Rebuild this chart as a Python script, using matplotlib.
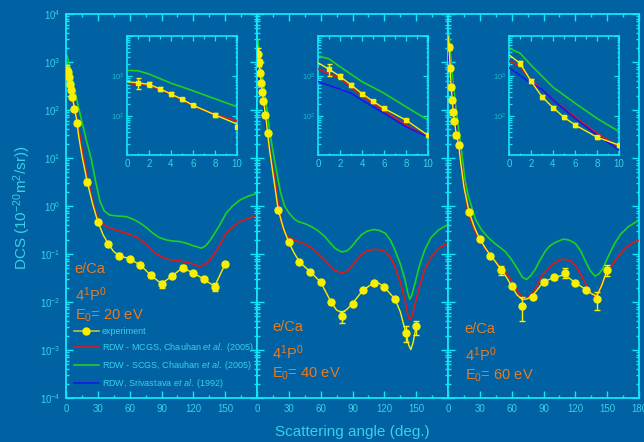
import matplotlib
matplotlib.use('Agg')
import matplotlib.pyplot as plt
from matplotlib.ticker import LogLocator, MultipleLocator, NullFormatter, FixedLocator, FixedFormatter
from matplotlib.lines import Line2D

plt.rcParams['font.family'] = ['Liberation Sans', 'DejaVu Sans']
plt.rcParams['mathtext.fontset'] = 'custom'
plt.rcParams['mathtext.rm'] = 'Liberation Sans'
plt.rcParams['mathtext.it'] = 'Liberation Sans:italic'
plt.rcParams['mathtext.bf'] = 'Liberation Sans:bold'

# ---------------- data ----------------
energies = ['20', '40', '60']
exp_ang = [1, 2, 3, 4, 5, 6, 8, 10, 20, 30, 40, 50, 60, 70, 80, 90, 100, 110, 120, 130, 140, 150]

exp20 = [680, 620, 480, 355, 262, 185, 106, 54, 3.2, 0.47, 0.16, 0.093, 0.079, 0.059, 0.036, 0.024,
         0.035, 0.052, 0.040, 0.030, 0.021, 0.062]
err20 = [200, 75, 48, 35, 26, 18, 10, 5, 0.4, 0.05, 0.016, 0.012, 0.008, 0.006, 0.004, 0.004,
         0.004, 0.006, 0.004, 0.003, 0.004, 0.006]
exp40 = [1480, 980, 600, 360, 234, 155, 79, 33, 0.83, 0.174, 0.069, 0.043, 0.026, 0.0098, 0.0051, 0.0093,
         0.0178, 0.025, 0.0204, 0.0115, 0.0023, 0.0031]
err40 = [500, 150, 60, 30, 20, 12, 6, 3, 0.06, 0.012, 0.005, 0.003, 0.002, 0.0008, 0.0015, 0.0008,
         0.0013, 0.002, 0.0015, 0.001, 0.0008, 0.001]
exp60 = [2090, 750, 302, 162, 93, 60, 29.5, 18.8, 0.74, 0.204, 0.093, 0.047, 0.0214, 0.0083, 0.0129, 0.0263,
         0.0324, 0.041, 0.0251, 0.0182, 0.0115, 0.047]
err60 = [300, 80, 30, 16, 9, 6, 3, 2, 0.07, 0.02, 0.009, 0.01, 0.002, 0.0042, 0.0013, 0.0026,
         0.003, 0.009, 0.0025, 0.0018, 0.0048, 0.012]

fit20_ang = [0, 1, 2, 3, 4, 5, 6, 8, 10, 12, 15, 20, 25, 30, 35, 40, 45, 50, 60, 70, 80, 90, 100, 110, 120, 130, 140, 150]
fit20 = [724, 676, 617, 479, 355, 263, 186, 107, 63, 28, 11.2, 3.2, 1.12, 0.47, 0.25, 0.16, 0.112, 0.093,
         0.079, 0.059, 0.036, 0.024, 0.035, 0.052, 0.040, 0.030, 0.021, 0.062]
fit40_ang = [0, 1, 2, 3, 4, 5, 6, 8, 10, 12, 15, 20, 25, 30, 35, 40, 45, 50, 60, 70, 75, 80, 85, 90, 100, 110,
             115, 120, 130, 135, 140, 143, 145, 147, 150]
fit40 = [2140, 1480, 980, 600, 363, 234, 155, 79, 33, 14, 4.8, 0.83, 0.34, 0.174, 0.105, 0.069, 0.054, 0.043,
         0.026, 0.0098, 0.0068, 0.0060, 0.0071, 0.0093, 0.0178, 0.025, 0.0245, 0.0204, 0.0115, 0.0063, 0.0024,
         0.00126, 0.00102, 0.0014, 0.0031]
fit60_ang = [0, 1, 2, 3, 4, 5, 6, 8, 10, 12, 15, 20, 25, 30, 35, 40, 45, 50, 55, 60, 65, 70, 75, 80, 90, 100,
             110, 120, 130, 135, 140, 145, 150]
fit60 = [3390, 2090, 750, 302, 162, 93, 60, 29.5, 18.8, 7.9, 2.5, 0.74, 0.355, 0.204, 0.135, 0.093, 0.068,
         0.047, 0.033, 0.0214, 0.0141, 0.0112, 0.0117, 0.0138, 0.0263, 0.0324, 0.037, 0.0251, 0.0182, 0.0151,
         0.0132, 0.0224, 0.047]

# RDW - MCGS (red)
mcgs20_ang = [0, 2, 4, 6, 8, 10, 15, 20, 25, 29, 34, 38, 43, 48, 57, 67, 76, 85, 95, 107, 120, 126, 131, 136,
              144, 151, 158, 164, 172, 180]
mcgs20 = [661, 589, 355, 178, 110, 76, 15.8, 4.0, 1.26, 0.63, 0.44, 0.37, 0.34, 0.31, 0.27, 0.224, 0.155, 0.100,
          0.078, 0.072, 0.062, 0.055, 0.060, 0.076, 0.141, 0.27, 0.38, 0.47, 0.56, 0.62]
mcgs40_ang = [0, 2, 4, 6, 8, 10, 13, 17, 20, 23, 26, 30, 35, 40, 46, 52, 58, 64, 69, 74, 80, 85, 89, 94, 99,
              104, 110, 115, 121, 126, 130, 135, 139.5, 142, 144, 146, 149, 153, 158, 164, 171, 180]
mcgs40 = [1500, 870, 316, 133, 60, 30, 10, 3.5, 1.12, 0.44, 0.28, 0.224, 0.195, 0.178, 0.158, 0.132, 0.1, 0.075,
          0.056, 0.045, 0.040, 0.044, 0.055, 0.076, 0.1, 0.117, 0.126, 0.123, 0.112, 0.083, 0.055, 0.026, 0.011,
          0.0056, 0.0042, 0.005, 0.0093, 0.02, 0.047, 0.085, 0.132, 0.17]
mcgs60_ang = [0, 1, 2, 4, 6, 8, 10, 12, 14.4, 19, 24, 28.6, 35, 41, 47, 53.7, 58, 63, 67, 71, 75, 79, 84, 88,
              93, 98, 103, 107, 112, 117, 122, 126, 131, 135, 138.5, 142, 145, 148, 154, 160, 167, 173, 180]
mcgs60 = [2370, 1780, 794, 251, 95, 37, 17, 8.9, 3.5, 0.71, 0.355, 0.214, 0.132, 0.085, 0.063, 0.043, 0.032,
          0.021, 0.0148, 0.012, 0.0123, 0.0141, 0.022, 0.034, 0.047, 0.059, 0.071, 0.078, 0.076, 0.069, 0.05,
          0.034, 0.021, 0.0148, 0.0129, 0.0158, 0.024, 0.034, 0.056, 0.087, 0.132, 0.166, 0.195]

# RDW - SCGS (green)
scgs20_ang = [0, 1, 2, 4, 6, 8, 10, 15, 20, 24, 28, 32, 36, 41, 48, 57, 64, 70, 76, 82, 88, 95, 101, 107, 114,
              120, 128, 132, 136, 144, 151, 157, 164, 172, 180]
scgs20 = [1380, 1350, 1120, 660, 427, 269, 170, 56, 20, 9.1, 3.2, 1.26, 0.79, 0.65, 0.62, 0.60, 0.52, 0.44,
          0.35, 0.27, 0.22, 0.195, 0.186, 0.182, 0.166, 0.148, 0.132, 0.151, 0.195, 0.37, 0.71, 1.0, 1.33, 1.62, 1.82]
scgs40_ang = [0, 1, 2, 4, 6, 8, 10, 12, 15, 18, 22, 26, 30, 35, 39, 45, 51.5, 58, 64, 69, 74, 80, 85, 89, 94,
              99, 104, 110, 115, 121, 126, 130, 135, 139.5, 142, 144, 146, 149, 153, 158, 164, 171, 180]
scgs40 = [3160, 2690, 1700, 724, 372, 170, 79, 35, 14, 6.0, 2.0, 1.0, 0.72, 0.54, 0.47, 0.43, 0.37, 0.30, 0.23,
          0.17, 0.129, 0.11, 0.117, 0.141, 0.195, 0.257, 0.30, 0.324, 0.31, 0.27, 0.19, 0.12, 0.063, 0.029,
          0.0158, 0.0115, 0.014, 0.025, 0.056, 0.12, 0.22, 0.316, 0.41]
scgs60_ang = [0, 1, 2, 4, 6, 8, 10, 13, 16, 19, 22, 26, 31.7, 38, 44, 50, 54, 60, 66, 70, 74, 78, 82, 87, 91.4,
              96, 101, 108.7, 114, 120, 125, 129, 134, 138.5, 142, 146, 151, 157, 163, 170, 180]
scgs60 = [4900, 3720, 1880, 525, 209, 87, 41, 12.6, 3.5, 1.66, 1.0, 0.52, 0.316, 0.219, 0.166, 0.132, 0.112,
          0.076, 0.047, 0.033, 0.0295, 0.0355, 0.047, 0.076, 0.112, 0.148, 0.174, 0.204, 0.195, 0.166, 0.117,
          0.075, 0.045, 0.0347, 0.038, 0.050, 0.089, 0.166, 0.263, 0.37, 0.51]

# RDW, Srivastava et al. (blue), small angles only
sriv_ang = [0, 2, 3, 4, 6, 8, 10]
sriv40 = [724, 468, 372, 251, 117, 54, 30]
sriv60 = [1620, 660, 460, 251, 87, 33.5, 14.1]
sriv60_ang = [0, 2, 3, 4, 6, 8, 10]

legend_labels = ['experiment',
                 r'RDW - MCGS, Chauhan $\it{et\ al.}$ (2005)',
                 r'RDW - SCGS, Chauhan $\it{et\ al.}$ (2005)',
                 r'RDW, Srivastava $\it{et\ al.}$ (1992)']

# ---------------- style ----------------
BG = '#0062a2'
CYAN = '#10e8f8'
TICKC = '#38d0e8'
INTICK = '#20b8d0'
YEL = '#f8f000'
RED = '#e01818'
GRN = '#20d020'
BLU = '#1818e8'
ORANGE = '#e87a22'

W, H = 644, 442
fig = plt.figure(figsize=(W / 100, H / 100), dpi=100, facecolor=BG)

panels = [
    dict(exp=exp20, err=err20, fit_a=fit20_ang, fit=fit20, r_a=mcgs20_ang, r=mcgs20, g_a=scgs20_ang, g=scgs20,
         b_a=None, b=None, left=66, inset=127, txt=(0.045, 0.335)),
    dict(exp=exp40, err=err40, fit_a=fit40_ang, fit=fit40, r_a=mcgs40_ang, r=mcgs40, g_a=scgs40_ang, g=scgs40,
         b_a=sriv_ang, b=sriv40, left=257, inset=318, txt=(0.078, 0.185)),
    dict(exp=exp60, err=err60, fit_a=fit60_ang, fit=fit60, r_a=mcgs60_ang, r=mcgs60, g_a=scgs60_ang, g=scgs60,
         b_a=sriv60_ang, b=sriv60, left=448, inset=509, txt=(0.088, 0.18)),
]


def style_spines(ax, lw=1.3):
    for s in ax.spines.values():
        s.set_color(CYAN)
        s.set_linewidth(lw)


def draw(ax, p, inset=False):
    lw = 1.2
    ax.plot(p['g_a'], p['g'], color=GRN, lw=lw, zorder=2)
    ax.plot(p['r_a'], p['r'], color=RED, lw=lw, zorder=3)
    if p['b_a'] is not None:
        ax.plot(p['b_a'], p['b'], color=BLU, lw=lw, zorder=3)
    ax.plot(p['fit_a'], p['fit'], color=YEL, lw=1.0, zorder=4)
    ax.errorbar(exp_ang, p['exp'], yerr=p['err'], fmt='none', ecolor=YEL, elinewidth=1.0,
                capsize=1.8 if inset else 2.2, capthick=1.0, zorder=5)
    if inset:
        ax.plot(exp_ang, p['exp'], 's', ms=3, color=YEL, zorder=6)
    else:
        ax.plot(exp_ang, p['exp'], 'o', ms=5, color=YEL, zorder=6)


for i, p in enumerate(panels):
    ax = fig.add_axes([p['left'] / W, 1 - 398 / H, 191 / W, 384 / H])
    ax.set_facecolor(BG)
    ax.set_yscale('log')
    ax.set_xlim(0, 180)
    ax.set_ylim(1e-4, 1e4)
    style_spines(ax)
    draw(ax, p)
    ax.yaxis.set_major_locator(LogLocator(base=10, numticks=20))
    ax.yaxis.set_minor_locator(LogLocator(base=10, subs=range(2, 10), numticks=20))
    ax.yaxis.set_minor_formatter(NullFormatter())
    ax.xaxis.set_minor_locator(MultipleLocator(15))
    xt = list(range(0, 181, 30))
    xl = [str(v) for v in xt]
    if i < 2:
        xl[-1] = ''
    ax.set_xticks(xt, labels=xl)
    ax.tick_params(which='both', direction='in', top=True, right=True, color=CYAN,
                   labelcolor=TICKC, labelsize=7, width=1.0)
    ax.tick_params(which='major', length=5, pad=4)
    ax.tick_params(which='minor', length=2.5)
    if i > 0:
        ax.tick_params(labelleft=False)
    tx, ty = p['txt']
    ax.text(tx, ty, 'e/Ca', transform=ax.transAxes, color=ORANGE, fontsize=10.5, va='center')
    ax.text(tx, ty - 0.066, r'4$^1$P$^0$', transform=ax.transAxes, color=ORANGE, fontsize=10.5, va='center')
    ax.text(tx, ty - 0.122, r'E$_0$= %s eV' % energies[i], transform=ax.transAxes, color=ORANGE,
            fontsize=10.5, va='center')
    if i == 0:
        handles = [Line2D([], [], color='#c0c040', lw=1.2, marker='o', ms=5, mfc=YEL, mec=YEL),
                   Line2D([], [], color=RED, lw=1.2),
                   Line2D([], [], color=GRN, lw=1.2),
                   Line2D([], [], color=BLU, lw=1.2)]
        ax.legend(handles, legend_labels, loc='lower left', bbox_to_anchor=(0.0, 0.0), frameon=False,
                  fontsize=6.5, labelcolor=TICKC, handlelength=2.7, handletextpad=0.35,
                  borderaxespad=0.6, labelspacing=0.55, borderpad=0.3)

    # inset
    ai = fig.add_axes([p['inset'] / W, 1 - 155 / H, 110 / W, 119 / H])
    ai.set_facecolor(BG)
    ai.set_yscale('log')
    ai.set_xlim(0, 10)
    ai.set_ylim(10.6, 1e4)
    style_spines(ai, 1.2)
    draw(ai, p, inset=True)
    ai.yaxis.set_major_locator(FixedLocator([10, 100, 1000, 10000]))
    ai.yaxis.set_major_formatter(FixedFormatter(['', r'10$^2$', r'10$^3$', '']))
    ai.yaxis.set_minor_locator(LogLocator(base=10, subs=range(2, 10), numticks=20))
    ai.yaxis.set_minor_formatter(NullFormatter())
    ai.xaxis.set_major_locator(MultipleLocator(2))
    ai.xaxis.set_minor_locator(MultipleLocator(1))
    ai.tick_params(which='both', direction='in', top=True, right=True, color=CYAN, width=0.9)
    ai.tick_params(which='major', length=3.5)
    ai.tick_params(which='minor', length=1.8)
    ai.tick_params(axis='x', labelcolor=TICKC, labelsize=7, pad=3)
    ai.tick_params(axis='y', labelcolor=INTICK, labelsize=5.5, pad=2)

fig.text(352 / W, 1 - 432 / H, 'Scattering angle (deg.)', color=TICKC, fontsize=11, ha='center', va='center')
fig.text(22 / W, 1 - 208 / H, r'DCS (10$^{-20}$m$^2$/sr))', color=TICKC, fontsize=11, ha='center',
         va='center', rotation=90)

fig.savefig('out.png', dpi=100, facecolor=BG)
